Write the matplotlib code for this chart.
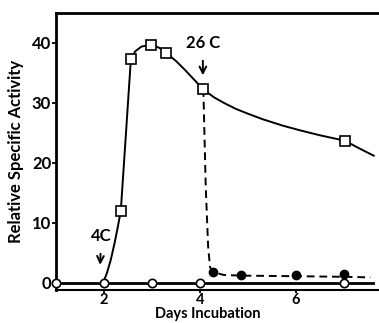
import matplotlib
matplotlib.use("Agg")
import matplotlib.pyplot as plt

plt.rcParams["font.family"] = ["Lato", "DejaVu Sans"]
plt.rcParams["font.weight"] = "bold"

# squares: activity at 4C then shifted to 26C
sq_x = [2.35, 2.56, 2.98, 3.30, 4.06, 7.02]
sq_y = [12.0, 37.3, 39.7, 38.3, 32.3, 23.7]

# hand-drawn curve through the squares
curve_x = [1.98, 2.06, 2.14, 2.22, 2.29, 2.35, 2.45, 2.56, 2.65, 2.78, 2.98, 3.15, 3.30,
           3.50, 3.70, 3.90, 4.06, 4.30, 4.50, 4.75, 5.00, 5.30, 5.73, 6.10, 6.50,
           7.02, 7.30, 7.62]
curve_y = [0.0, 1.6, 3.8, 6.6, 9.4, 12.0, 24.0, 37.3, 38.6, 39.4, 39.7, 39.2, 38.3,
           37.0, 35.4, 33.7, 32.3, 30.9, 30.0, 29.0, 28.2, 27.3, 26.2, 25.4, 24.6,
           23.7, 22.5, 21.2]

# filled circles after the shift, with the dashed trace
dot_x = [4.27, 4.85, 6.00, 7.00]
dot_y = [1.8, 1.3, 1.3, 1.5]
dash_x = [4.07, 4.12, 4.17, 4.21, 4.27, 4.50, 4.85, 6.00, 7.00, 7.55]
dash_y = [32.3, 16.0, 6.0, 2.6, 1.8, 1.3, 1.2, 1.1, 1.0, 0.9]

# open circles: kept at 4C
oc_x = [1, 2, 3, 4, 7]
oc_y = [0, 0, 0, 0, 0]
base_x = [1.0, 7.6]
base_y = [0.0, 0.0]

fig = plt.figure(figsize=(3.79, 3.23), dpi=100)
ax = fig.add_axes([56 / 379, 1 - 290 / 323, 1 - 56 / 379, 277 / 323])

ax.plot(base_x, base_y, color="black", lw=2.0, clip_on=False)
ax.plot(dash_x, dash_y, color="black", lw=1.4, ls=(0, (4, 2.5)))
ax.plot(curve_x, curve_y, color="black", lw=1.4)
ax.plot(sq_x, sq_y, ls="none", marker="s", ms=6.5, mfc="white", mec="black", mew=1.2)
ax.plot(dot_x, dot_y, ls="none", marker="o", ms=6, mfc="black", mec="black")
ax.plot(oc_x, oc_y, ls="none", marker="o", ms=6, mfc="white", mec="black", mew=1.2,
        clip_on=False, zorder=5)

ax.annotate("4C", xy=(1.92, 3.0), xytext=(1.94, 7.8), ha="center", va="center",
            fontsize=12, fontweight="bold",
            arrowprops=dict(arrowstyle="->", color="black", lw=1.4, shrinkA=5, shrinkB=0))
ax.annotate("26 C", xy=(4.06, 34.6), xytext=(4.06, 40.0), ha="center", va="center",
            fontsize=12, fontweight="bold",
            arrowprops=dict(arrowstyle="->", color="black", lw=1.4, shrinkA=5, shrinkB=0))

ax.set_xlim(1.0, 7.73)
ax.set_ylim(-1.2, 45)
ax.set_xticks([2, 4, 6])
ax.set_yticks([0, 10, 20, 30, 40])
ax.tick_params(direction="out", length=3, width=1.3, pad=0.5, labelsize=12)
ax.tick_params(axis="x", labelsize=10.5, length=2.5, pad=0)
for lab in ax.get_xticklabels() + ax.get_yticklabels():
    lab.set_fontweight("bold")

ax.spines["right"].set_visible(False)
ax.spines["left"].set_linewidth(2.0)
ax.spines["top"].set_linewidth(2.0)
ax.spines["bottom"].set_linewidth(1.5)

ax.set_xlabel("Days Incubation", fontsize=10.5, fontweight="bold")
ax.xaxis.set_label_coords(0.47, -0.062)
ax.set_ylabel("Relative Specific Activity", fontsize=12, fontweight="bold")
ax.yaxis.set_label_coords(-0.10, 0.5)

fig.savefig("out.png", dpi=100)
